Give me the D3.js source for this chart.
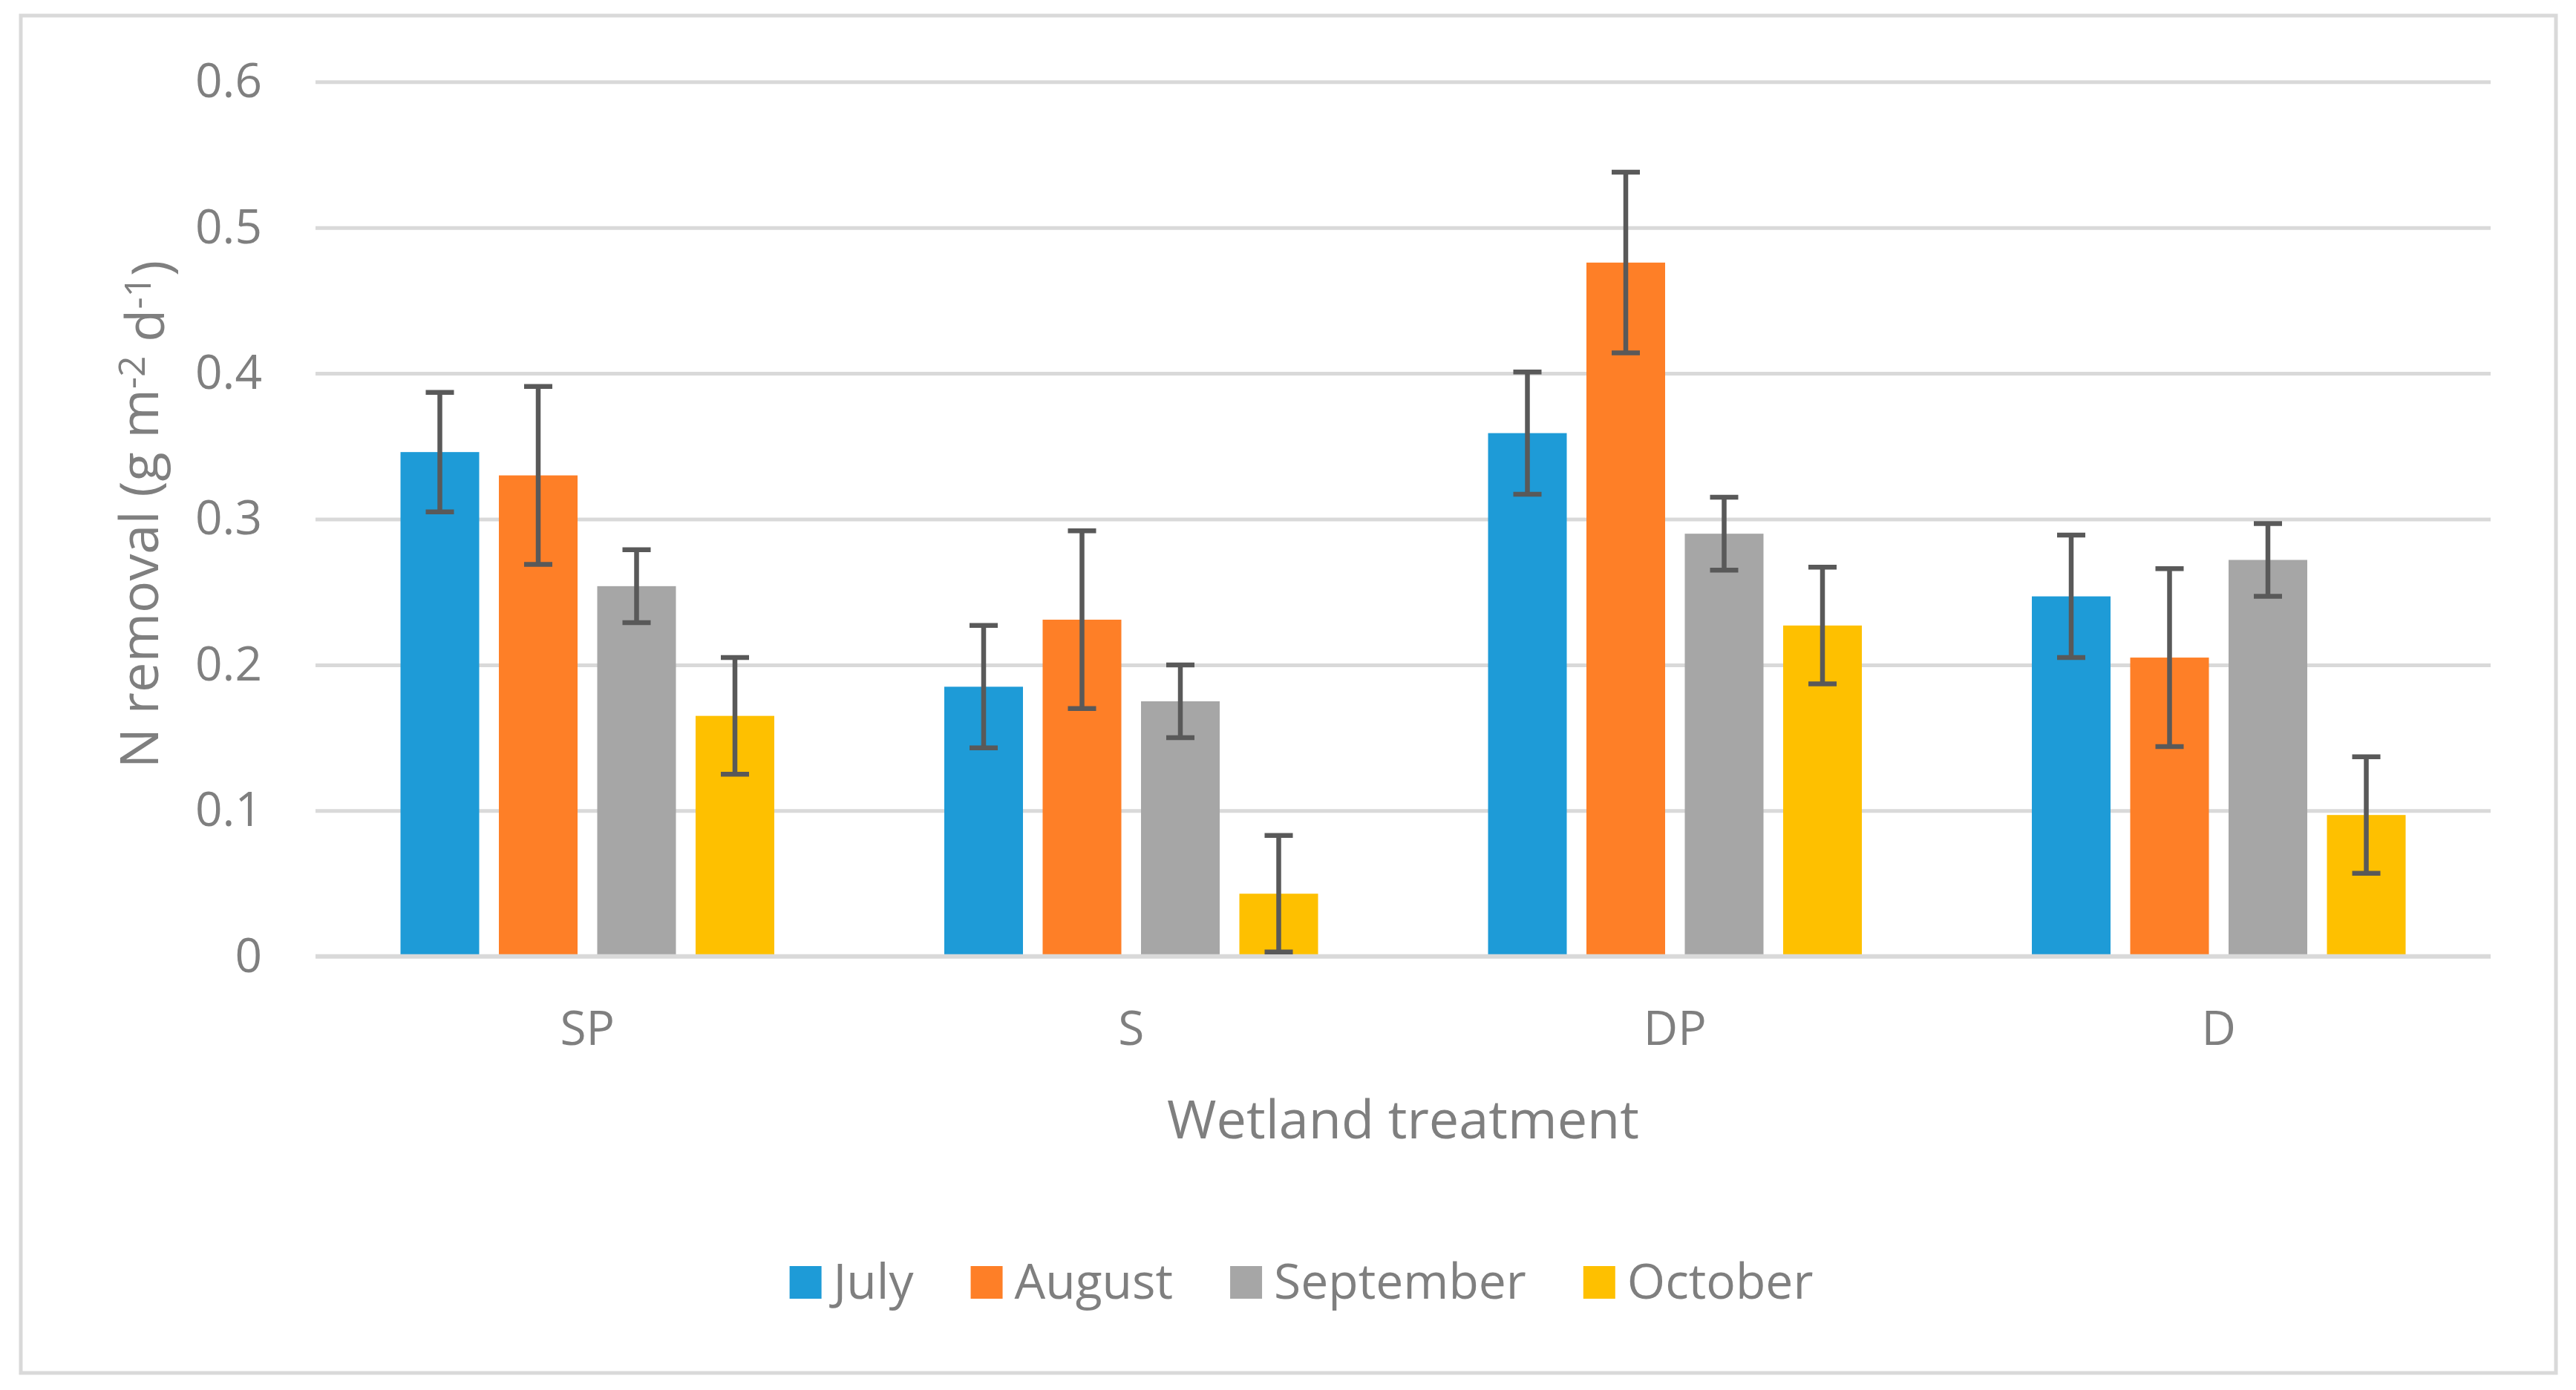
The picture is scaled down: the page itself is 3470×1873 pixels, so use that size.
<!DOCTYPE html>
<html>
<head>
<meta charset="utf-8">
<script src="https://cdn.jsdelivr.net/npm/d3@7"></script>
<style>
  body { margin: 0; background: #fff; }
  text { font-family: "Open Sans", "Noto Sans", sans-serif; fill: #7f7f7f; }
</style>
</head>
<body>
<div id="chart"></div>
<script>
// chart data
const categories = ["SP", "S", "DP", "D"];
const months = ["July", "August", "September", "October"];
const july = [0.346, 0.185, 0.359, 0.247];
const august = [0.330, 0.231, 0.476, 0.205];
const september = [0.254, 0.175, 0.290, 0.272];
const october = [0.165, 0.043, 0.227, 0.097];
const julyErr = [0.041, 0.042, 0.042, 0.042];
const augustErr = [0.061, 0.061, 0.062, 0.061];
const septemberErr = [0.025, 0.025, 0.025, 0.025];
const octoberErr = [0.040, 0.040, 0.040, 0.040];
const yTicks = [0, 0.1, 0.2, 0.3, 0.4, 0.5, 0.6];
const colors = ["#1e9bd7", "#fe7f27", "#a6a6a6", "#fec000"];

const seriesValues = [july, august, september, october];
const seriesErrors = [julyErr, augustErr, septemberErr, octoberErr];

const W = 3470, H = 1873;
const plot = {left: 425, right: 3355, top: 110.3, bottom: 1288.7};

let svg = d3.select("#chart").append("svg")
    .attr("width", W)
    .attr("height", H);

svg.append("rect").attr("width", W).attr("height", H).attr("fill", "#fff");

// chart frame
svg.append("rect")
    .attr("x", 28).attr("y", 21)
    .attr("width", 3443 - 28).attr("height", 1850 - 21)
    .attr("fill", "none")
    .attr("stroke", "#d9d9d9")
    .attr("stroke-width", 5);

// scales
let y = d3.scaleLinear().domain([0, 0.6]).range([plot.bottom, plot.top]);
let x0 = d3.scaleBand().domain(categories).range([plot.left, plot.right]).padding(0);
const groupWidth = 503.5;
let x1 = d3.scaleBand().domain(months).range([0, groupWidth]).paddingInner(0.2).paddingOuter(0);

// y axis + gridlines
let yAxis = d3.axisLeft(y)
    .tickValues(yTicks)
    .tickSize(-(plot.right - plot.left))
    .tickPadding(72)
    .tickFormat(d => d === 0 ? "0" : d3.format(".1f")(d));

let yG = svg.append("g")
    .attr("transform", `translate(${plot.left},0)`)
    .call(yAxis);
yG.select(".domain").remove();
yG.selectAll(".tick line")
    .attr("stroke", "#d9d9d9")
    .attr("stroke-width", d => d === 0 ? 0 : 5);
yG.selectAll(".tick text")
    .attr("fill", "#7f7f7f")
    .style("font-size", "64px")
    .style("font-family", "'Open Sans', sans-serif");

// bars
let rows = [];
categories.forEach((c, i) => {
    months.forEach((m, j) => {
        rows.push({cat: c, month: m, value: seriesValues[j][i], err: seriesErrors[j][i], color: colors[j]});
    });
});

const bx = d => x0(d.cat) + x0.bandwidth() / 2 - groupWidth / 2 + x1(d.month);

svg.append("g").selectAll("rect")
    .data(rows)
    .enter().append("rect")
    .attr("x", bx)
    .attr("y", d => y(d.value))
    .attr("width", x1.bandwidth())
    .attr("height", d => y(0) - y(d.value))
    .attr("fill", d => d.color);

// baseline
svg.append("line")
    .attr("x1", plot.left).attr("x2", plot.right)
    .attr("y1", y(0)).attr("y2", y(0))
    .attr("stroke", "#d9d9d9")
    .attr("stroke-width", 6);

// error bars
let eb = svg.append("g").attr("stroke", "#595959").attr("stroke-width", 6.5);
rows.forEach(d => {
    let cx = bx(d) + x1.bandwidth() / 2;
    let top = y(d.value + d.err), bot = y(d.value - d.err);
    eb.append("line").attr("x1", cx).attr("x2", cx).attr("y1", top).attr("y2", bot);
    eb.append("line").attr("x1", cx - 19).attr("x2", cx + 19).attr("y1", top).attr("y2", top);
    eb.append("line").attr("x1", cx - 19).attr("x2", cx + 19).attr("y1", bot).attr("y2", bot);
});

// category axis
let xAxis = d3.axisBottom(x0).tickSize(0).tickPadding(74);
let xG = svg.append("g")
    .attr("transform", `translate(0,${plot.bottom})`)
    .call(xAxis);
xG.select(".domain").remove();
xG.selectAll(".tick text")
    .attr("fill", "#7f7f7f")
    .style("font-size", "64px")
    .style("font-family", "'Open Sans', sans-serif");

// axis titles
svg.append("text")
    .attr("x", (plot.left + plot.right) / 2)
    .attr("y", 1534)
    .attr("text-anchor", "middle")
    .style("font-size", "72px")
    .text("Wetland treatment");

let yt = svg.append("text")
    .attr("transform", "translate(213,693) rotate(-90)")
    .attr("text-anchor", "middle")
    .style("font-size", "72px");
yt.append("tspan").text("N removal (g m");
yt.append("tspan").attr("dy", "-0.36em").style("font-size", "50px").text("-2");
yt.append("tspan").attr("dy", "0.36em").text(" d");
yt.append("tspan").attr("dy", "-0.36em").style("font-size", "50px").text("-1");
yt.append("tspan").attr("dy", "0.36em").text(")");

// legend
let legend = svg.append("g");
let lx = 0;
months.forEach((m, j) => {
    let g = legend.append("g").attr("transform", `translate(${lx},0)`);
    g.append("rect")
        .attr("x", 0).attr("y", 1706)
        .attr("width", 43).attr("height", 44)
        .attr("fill", colors[j]);
    let t = g.append("text")
        .attr("x", 59).attr("y", 1750)
        .style("font-size", "66px")
        .text(m);
    lx += 59 + t.node().getComputedTextLength() + 77;
});
let legendWidth = lx - 77;
legend.attr("transform", `translate(${1753 - legendWidth / 2},0)`);
</script>
</body>
</html>
